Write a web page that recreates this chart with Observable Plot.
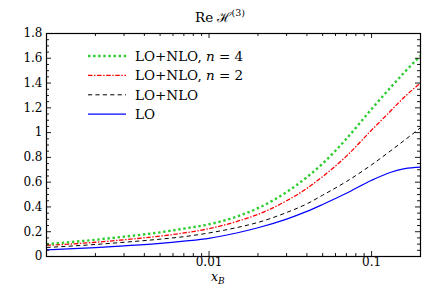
<!DOCTYPE html>
<html>
<head>
<meta charset="utf-8">
<script src="https://cdn.jsdelivr.net/npm/d3@7"></script>
<script src="https://cdn.jsdelivr.net/npm/@observablehq/plot@0.6"></script>
<style>
  html, body { margin: 0; padding: 0; background: #fff; overflow: hidden; }
  svg { display: block; }
</style>
</head>
<body>
<div id="chart"></div>
<script>
// x_B sample points
const xB = [0.001, 0.002, 0.003, 0.005, 0.007, 0.01, 0.015, 0.02, 0.03, 0.04, 0.05, 0.07, 0.1, 0.13, 0.16, 0.2];
// Re H^(3) series
const lo      = [0.054, 0.072, 0.086, 0.106, 0.124, 0.147, 0.192, 0.232, 0.302, 0.364, 0.420, 0.510, 0.615, 0.678, 0.710, 0.722];
const loNlo   = [0.073, 0.097, 0.115, 0.140, 0.160, 0.190, 0.235, 0.275, 0.355, 0.425, 0.495, 0.605, 0.740, 0.850, 0.940, 1.040];
const loNloN2 = [0.089, 0.115, 0.135, 0.165, 0.190, 0.225, 0.285, 0.340, 0.450, 0.550, 0.645, 0.810, 1.020, 1.170, 1.290, 1.400];
const loNloN4 = [0.100, 0.135, 0.160, 0.195, 0.225, 0.260, 0.325, 0.390, 0.520, 0.640, 0.750, 0.950, 1.190, 1.360, 1.490, 1.620];

const seriesNames = ["LO+NLO, n = 4", "LO+NLO, n = 2", "LO+NLO", "LO"];

// ticks
const xMajorTicks = [0.01, 0.1];
const xMajorTickLabels = ["0.01", "0.1"];
const xMinorTicks = [0.002, 0.003, 0.004, 0.005, 0.006, 0.007, 0.008, 0.009, 0.02, 0.03, 0.04, 0.05, 0.06, 0.07, 0.08, 0.09];
const yMajorTicks = [0, 0.2, 0.4, 0.6, 0.8, 1, 1.2, 1.4, 1.6, 1.8];
const yMajorTickLabels = ["0", "0.2", "0.4", "0.6", "0.8", "1", "1.2", "1.4", "1.6", "1.8"];
const yMinorTicks = [0.05, 0.1, 0.15, 0.25, 0.3, 0.35, 0.45, 0.5, 0.55, 0.65, 0.7, 0.75, 0.85, 0.9, 0.95, 1.05, 1.1, 1.15, 1.25, 1.3, 1.35, 1.45, 1.5, 1.55, 1.65, 1.7, 1.75];

const styles = [
  {name: seriesNames[0], values: loNloN4, stroke: "#2ecc2e", width: 2.4, dash: "2.4,2.7", cap: "butt"},
  {name: seriesNames[1], values: loNloN2, stroke: "#ff0000", width: 1.3, dash: "4.5,1.6,1.4,1.6", cap: "butt"},
  {name: seriesNames[2], values: loNlo,   stroke: "#000000", width: 1.0, dash: "4.2,3.2", cap: "butt"},
  {name: seriesNames[3], values: lo,      stroke: "#0000ff", width: 1.2, dash: null, cap: "butt"}
];

const W = 442, H = 290, mT = 33, mL = 46, mR = 22, mB = 34;
const fw = W - mL - mR, fh = H - mT - mB;
const majorLen = 5, minorLen = 3;

const lineMarks = styles.slice().reverse().map(s => Plot.line(xB.map((x, i) => ({x, y: s.values[i]})), {
  x: "x", y: "y", stroke: s.stroke, strokeWidth: s.width, strokeDasharray: s.dash, strokeLinecap: s.cap, curve: "monotone-x"
}));

const tickStyle = {stroke: "black", strokeWidth: 0.9};

const chart = Plot.plot({
  width: W, height: H,
  marginTop: mT, marginLeft: mL, marginRight: mR, marginBottom: mB,
  style: {fontFamily: "'DejaVu Serif', serif", fontSize: "12px", background: "white", color: "black"},
  x: {type: "log", domain: [0.001, 0.2]},
  y: {domain: [0, 1.8]},
  marks: [
    ...lineMarks,
    Plot.tickX(xMajorTicks, {x: d => d, insetTop: fh - majorLen, ...tickStyle}),
    Plot.tickX(xMinorTicks, {x: d => d, insetTop: fh - minorLen, ...tickStyle}),
    Plot.tickX(xMajorTicks, {x: d => d, insetBottom: fh - majorLen, ...tickStyle}),
    Plot.tickX(xMinorTicks, {x: d => d, insetBottom: fh - minorLen, ...tickStyle}),
    Plot.tickY(yMajorTicks, {y: d => d, insetRight: fw - majorLen, ...tickStyle}),
    Plot.tickY(yMinorTicks, {y: d => d, insetRight: fw - minorLen, ...tickStyle}),
    Plot.tickY(yMajorTicks, {y: d => d, insetLeft: fw - majorLen, ...tickStyle}),
    Plot.tickY(yMinorTicks, {y: d => d, insetLeft: fw - minorLen, ...tickStyle}),
    Plot.axisX({ticks: xMajorTicks, tickSize: 0, tickPadding: 1, tickFormat: d => xMajorTickLabels[xMajorTicks.indexOf(d)], label: null, fontSize: 12}),
    Plot.axisY({ticks: yMajorTicks, tickSize: 0, tickPadding: 4, tickFormat: d => yMajorTickLabels[yMajorTicks.indexOf(d)], label: null, fontSize: 12}),
    Plot.frame({stroke: "black", strokeWidth: 1.2})
  ]
});
document.getElementById("chart").appendChild(chart);

const svg = d3.select(chart);
const font = "'DejaVu Serif', serif";

// title
const title = svg.append("text").attr("x", 220).attr("y", 22).attr("text-anchor", "middle")
  .attr("font-family", font).attr("font-size", 13.5).attr("fill", "black");
title.append("tspan").text("Re ");
title.append("tspan").text("ℋ");
title.append("tspan").attr("font-size", 9.5).attr("dy", -6).text("(3)");

// x label
const xl = svg.append("text").attr("x", 211).attr("y", 281).attr("text-anchor", "start")
  .attr("font-family", font).attr("font-size", 12.5).attr("fill", "black");
xl.append("tspan").attr("font-style", "italic").text("x");
xl.append("tspan").attr("font-style", "italic").attr("font-size", 9).attr("dy", 3).text("B");

// legend
styles.forEach((s, i) => {
  const y = 56 + i * 19.4;
  svg.append("line").attr("x1", 88).attr("x2", 126).attr("y1", y).attr("y2", y)
    .attr("stroke", s.stroke).attr("stroke-width", s.width)
    .attr("stroke-dasharray", s.dash).attr("stroke-linecap", s.cap);
  const t = svg.append("text").attr("x", 135).attr("y", y + 5).attr("text-anchor", "start")
    .attr("font-family", font).attr("font-size", 13.5).attr("fill", "black");
  const m = s.name.match(/^(.*, )n( = .*)$/);
  if (m) {
    t.append("tspan").text(m[1]);
    t.append("tspan").attr("font-style", "italic").text("n");
    t.append("tspan").text(m[2]);
  } else {
    t.text(s.name);
  }
});
</script>
</body>
</html>
